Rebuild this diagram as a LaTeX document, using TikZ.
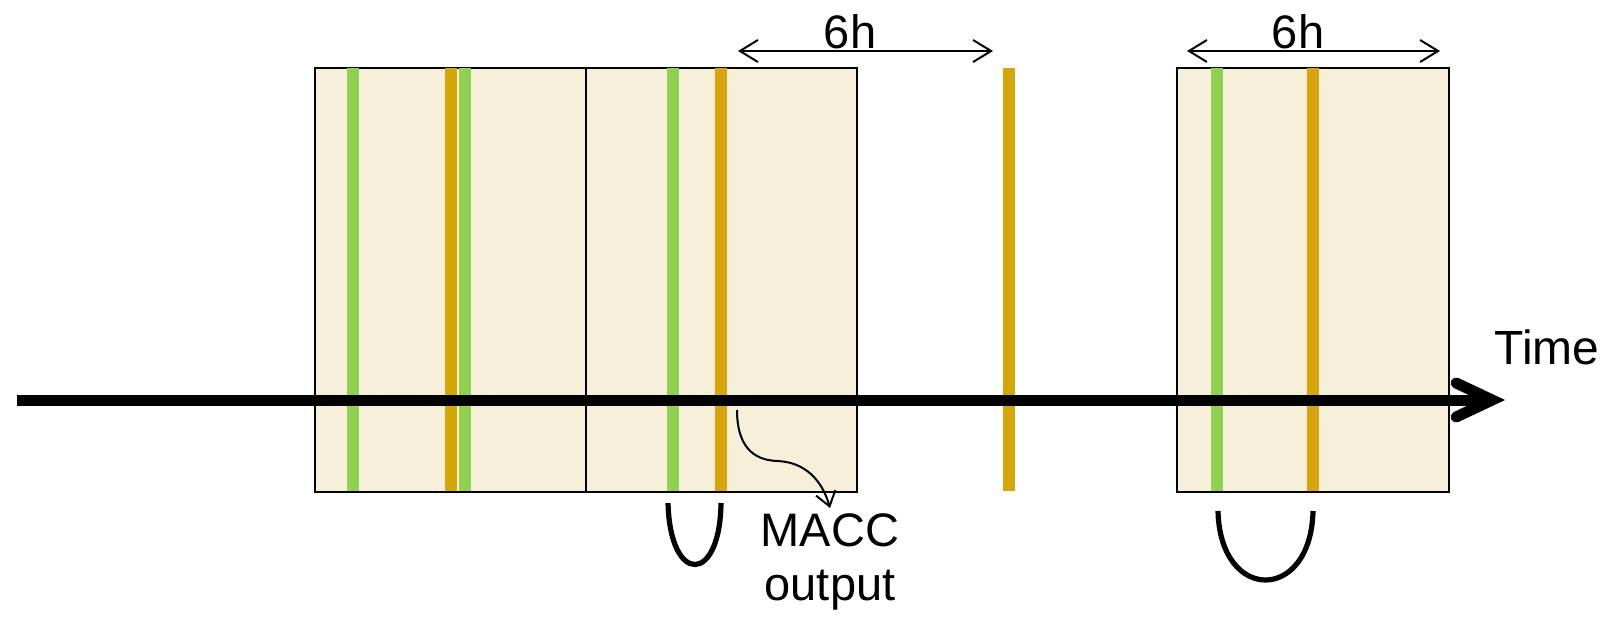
\documentclass[tikz,border=0pt]{standalone}
\usepackage{fontspec}
\setmainfont{Liberation Sans}
\usetikzlibrary{arrows.meta}
\definecolor{windowfill}{RGB}{246,240,218}
\definecolor{greenbar}{RGB}{146,208,80}
\definecolor{orangebar}{RGB}{213,166,10}

\begin{document}
\begin{tikzpicture}[x=0.5pt, y=-0.5pt,
	window/.style={fill=windowfill, draw=black, line width=1.1pt},
	gbar/.style={draw=greenbar, line width=6pt},
	obar/.style={draw=orangebar, line width=6pt},
	span/.style={line width=1pt, {Straight Barb[length=9pt,width=11pt]}-{Straight Barb[length=9pt,width=11pt]}},
	loop/.style={line width=2.6pt},
	lbl/.style={font=\fontsize{23.5}{27}\selectfont, inner sep=2.5pt}]
		\useasboundingbox (0,0) rectangle (1604,620);
		\filldraw[window] (315,68) rectangle (586,492);
		\filldraw[window] (586,68) rectangle (857,492);
		\filldraw[window] (1177,68) rectangle (1449,492);
		\foreach \x in {353,465,673,1217} \draw[gbar] (\x,68) -- (\x,491);
		\foreach \x in {451,721,1009,1313} \draw[obar] (\x,68) -- (\x,491);
		\coordinate (t0) at (17,400);
		\coordinate (t1) at (1505,400);
		\draw[line width=5.5pt, -{Straight Barb[length=18pt,width=17pt,line cap=round]}] (t0) -- (t1);
		\node (time) at (1547,347) [lbl, font=\fontsize{24}{28}\selectfont] {Time};
		\node (six1) at (850,32) [lbl] {6h};
		\node (six2) at (1298,32) [lbl] {6h};
		\coordinate (s1l) at (738,51);
		\coordinate (s1r) at (993,51);
		\coordinate (s2l) at (1187,51);
		\coordinate (s2r) at (1440,51);
		\draw[span] (s1l) -- (s1r);
		\draw[span] (s2l) -- (s2r);
		\node (macc) at (830,508) [lbl, anchor=north, align=center] {MACC\\output};
		\coordinate (mstart) at (737,410);
		\draw[line width=1pt, -{Straight Barb[length=7pt,width=10pt]}] (mstart) .. controls (737,445) and (752,460) .. (777,461) .. controls (805,462) and (822,480) .. (macc.north);
		\coordinate (u1a) at (668,503);
		\coordinate (u1b) at (721,503);
		\coordinate (u2a) at (1218,511);
		\coordinate (u2b) at (1313,511);
		\draw[loop] (u1a) .. controls (670,585) and (720,585) .. (u1b);
		\draw[loop] (u2a) .. controls (1220,603) and (1311,603) .. (u2b);
\end{tikzpicture}
\end{document}
